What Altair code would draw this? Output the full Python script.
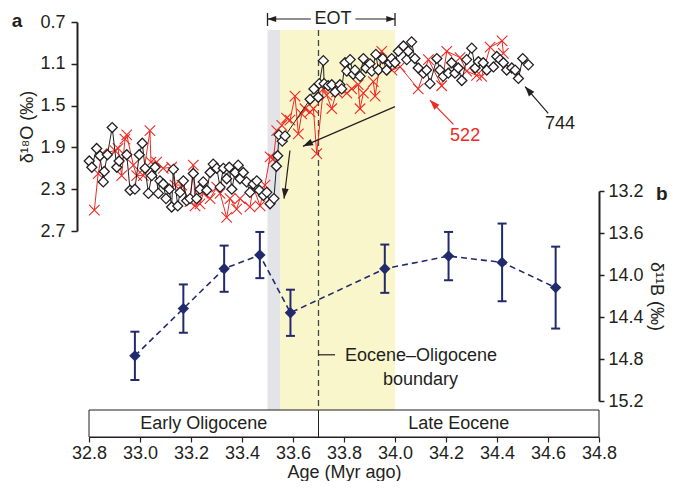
import altair as alt
import pandas as pd

# ---------------- data ----------------
# Site 744 (open black diamonds), age in Myr ago, d18O in permil
site744_age = [32.801, 32.811, 32.830, 32.843, 32.856, 32.860, 32.872, 32.891, 32.909, 32.918,
               32.948, 32.961, 32.980, 32.997, 33.009, 33.020, 33.033, 33.046, 33.059, 33.072,
               33.078, 33.091, 33.102, 33.115, 33.124, 33.131, 33.148, 33.157, 33.170, 33.183,
               33.196, 33.209, 33.222, 33.235, 33.248, 33.262, 33.275, 33.287, 33.301, 33.314,
               33.327, 33.340, 33.350, 33.360, 33.373, 33.385, 33.392, 33.405, 33.418, 33.431,
               33.444, 33.458, 33.468, 33.484, 33.497, 33.510, 33.525, 33.535, 33.540, 33.545,
               33.558, 33.569, 33.667, 33.682, 33.699, 33.703, 33.719, 33.722, 33.738, 33.752,
               33.765, 33.784, 33.791, 33.804, 33.811, 33.824, 33.836, 33.843, 33.863, 33.876,
               33.886, 33.902, 33.909, 33.925, 33.935, 33.952, 33.967, 33.980, 33.987, 34.000,
               34.013, 34.033, 34.046, 34.052, 34.065, 34.078, 34.091, 34.111, 34.124, 34.137,
               34.164, 34.176, 34.189, 34.209, 34.222, 34.235, 34.248, 34.262, 34.281, 34.301,
               34.314, 34.327, 34.346, 34.360, 34.386, 34.399, 34.412, 34.425, 34.438, 34.458,
               34.471, 34.484, 34.501, 34.523]
site744_d18o = [2.03, 2.09, 1.91, 1.98, 2.23, 2.13, 1.97, 1.71, 2.09, 2.03,
                1.97, 2.31, 2.30, 1.97, 1.86, 2.10, 2.34, 2.17, 2.09, 2.34,
                2.22, 2.25, 2.39, 2.30, 2.47, 2.11, 2.46, 2.33, 2.22, 2.41,
                2.39, 2.15, 2.39, 2.30, 2.23, 2.31, 2.14, 2.06, 2.10, 2.28,
                2.10, 2.20, 2.09, 2.30, 2.14, 2.07, 2.20, 2.14, 2.23, 2.33,
                2.25, 2.22, 2.31, 2.36, 2.33, 2.44, 2.39, 2.08, 1.98, 1.78,
                1.84, 1.79, 1.44, 1.34, 1.42, 1.29, 1.07, 1.29, 1.31, 1.30,
                1.37, 1.30, 1.34, 1.09, 1.17, 1.06, 1.20, 1.16, 1.22, 1.05,
                1.14, 1.10, 1.17, 1.01, 1.16, 1.05, 1.16, 1.09, 1.05, 1.09,
                0.98, 0.93, 1.06, 0.98, 0.89, 1.05, 1.14, 1.19, 1.16, 1.29,
                1.05, 1.16, 1.22, 1.19, 1.09, 1.19, 1.14, 1.26, 1.06, 0.95,
                1.14, 1.08, 1.09, 1.16, 1.13, 1.03, 1.06, 1.09, 1.16, 1.14,
                1.16, 1.24, 1.05, 1.11]

# Site 522 (red crosses)
site522_age = [32.821, 32.836, 32.851, 32.902, 32.914, 32.928, 32.941, 32.948, 32.974, 32.987,
               33.013, 33.039, 33.043, 33.065, 33.091, 33.124, 33.137, 33.164, 33.196, 33.209,
               33.216, 33.235, 33.248, 33.275, 33.301, 33.314, 33.340, 33.353, 33.379, 33.392,
               33.431, 33.444, 33.471, 33.490, 33.510, 33.523, 33.536, 33.556, 33.575, 33.588,
               33.608, 33.621, 33.634, 33.647, 33.667, 33.680, 33.693, 33.719, 33.732, 33.752,
               33.771, 33.811, 33.830, 33.856, 33.863, 33.876, 33.915, 33.922, 33.948, 33.988,
               34.020, 34.091, 34.131, 34.183, 34.203, 34.255, 34.281, 34.320, 34.340, 34.373,
               34.420, 34.425]
site522_d18o = [2.50, 2.15, 1.96, 1.93, 1.91, 2.17, 1.82, 1.78, 2.07, 2.17,
                2.17, 1.74, 2.04, 2.04, 2.10, 2.09, 2.26, 2.26, 2.42, 2.07,
                2.46, 2.44, 2.34, 2.39, 2.28, 2.34, 2.57, 2.39, 2.49, 2.39,
                2.47, 2.28, 2.46, 2.26, 1.99, 2.01, 1.74, 1.69, 1.62, 1.64,
                1.41, 1.77, 1.58, 1.53, 1.56, 1.53, 1.96, 1.34, 1.40, 1.53,
                1.37, 1.38, 1.34, 1.30, 1.53, 1.38, 1.27, 1.41, 0.98, 1.16,
                1.13, 1.34, 1.06, 1.31, 0.98, 1.04, 1.17, 1.21, 1.22, 0.94,
                0.88, 1.00]

# Boron isotopes (panel b)
boron_age = [32.98, 33.17, 33.33, 33.47, 33.59, 33.96, 34.21, 34.42, 34.63]
boron_d11b = [14.77, 14.32, 13.94, 13.81, 14.36, 13.94, 13.82, 13.88, 14.12]
boron_err = [0.23, 0.23, 0.22, 0.22, 0.22, 0.23, 0.23, 0.37, 0.39]

# Axis ticks
age_ticks = [32.8, 33.0, 33.2, 33.4, 33.6, 33.8, 34.0, 34.2, 34.4, 34.6, 34.8]
d18o_ticks = [0.7, 1.1, 1.5, 1.9, 2.3, 2.7]
d11b_ticks = [13.2, 13.6, 14.0, 14.4, 14.8, 15.2]

# Shaded intervals and epochs
band_start = [33.50, 33.55]
band_end = [33.55, 34.00]
band_color = ["#e2e4e7", "#faf6cc"]
boundary_age = [33.7]
epoch_names = ["Early Oligocene", "Late Eocene"]
epoch_start = [32.8, 33.7]
epoch_end = [33.7, 34.8]

# Annotation arrows in panel a (age, d18O)
arrow_x0 = [33.588, 34.000, 34.229, 34.601]
arrow_y0 = [1.93, 1.51, 1.68, 1.575]
arrow_x1 = [33.565, 33.639, 34.137, 34.510]
arrow_y1 = [2.39, 1.89, 1.447, 1.318]
arrow_angle = [187, 245, 316, 319]
label_text = ["522", "744"]
label_age = [34.275, 34.647]
label_d18o = [1.787, 1.676]

# ---------------- styling ----------------
FONT = "Liberation Sans"
INK = "#231f20"
RED = "#ee2a24"
NAVY = "#222a6e"
FS = 18
XPATH = "M-1,-1L1,1M-1,1L1,-1"
ARROW = "M0,0L0.35,1L-0.35,1Z"
CAP = "M-1,0L1,0"

arrow_color = [INK, INK, RED, INK]
label_color = [RED, INK]

df744 = pd.DataFrame({"age": site744_age, "d18o": site744_d18o})
df522 = pd.DataFrame({"age": site522_age, "d18o": site522_d18o})
dfb = pd.DataFrame({"age": boron_age, "d11b": boron_d11b, "err": boron_err})
dfb["lo"] = dfb["d11b"] - dfb["err"]
dfb["hi"] = dfb["d11b"] + dfb["err"]
dfband = pd.DataFrame({"start": band_start, "end": band_end, "color": band_color})
dfbound = pd.DataFrame({"age": boundary_age})
dfepoch = pd.DataFrame({"start": epoch_start, "end": epoch_end, "name": epoch_names})
dfepoch["mid"] = (dfepoch["start"] + dfepoch["end"]) / 2
dfarrow = pd.DataFrame({"x0": arrow_x0, "y0": arrow_y0, "x1": arrow_x1, "y1": arrow_y1,
                        "ang": arrow_angle, "color": arrow_color})
dflab = pd.DataFrame({"age": label_age, "d18o": label_d18o, "t": label_text, "color": label_color})

xscale = alt.Scale(domain=[32.8, 34.8], nice=False, zero=False)
xaxis = alt.Axis(values=age_ticks, format=".1f", title="Age (Myr ago)", grid=False,
                 labelFlush=False, labelOverlap=False, tickSize=5, tickWidth=1.2,
                 domainWidth=1.2, labelPadding=2, titleY=40, titleBaseline="alphabetic",
                 titleFontSize=18)
ya_scale = alt.Scale(domain=[0.7, 2.7], range=[14, 223], nice=False, zero=False)
ya_axis = alt.Axis(orient="left", offset=12, values=d18o_ticks, format=".1f",
                   title="δ¹⁸O (‰)", grid=False, labelFlush=False, labelOverlap=False,
                   tickSize=6, tickWidth=1.5, domainWidth=2, labelPadding=6, titlePadding=3)
yb_scale = alt.Scale(domain=[13.2, 15.2], range=[183, 393], nice=False, zero=False)
yb_axis = alt.Axis(orient="right", values=d11b_ticks, format=".1f",
                   title="δ¹¹B (‰)", grid=False, labelFlush=False, labelOverlap=False,
                   tickSize=5, tickWidth=1.5, domainWidth=2, labelPadding=4, titlePadding=3)


def X(field):
    return alt.X(f"{field}:Q", scale=xscale, axis=xaxis)


def YA(field):
    return alt.Y(f"{field}:Q", scale=ya_scale, axis=ya_axis)


def YB(field):
    return alt.Y(f"{field}:Q", scale=yb_scale, axis=yb_axis)


# ---------------- background layers ----------------
bands = alt.Chart(dfband).mark_rect().encode(
    x=X("start"), x2="end", y=alt.value(22), y2=alt.value(402),
    color=alt.Color("color:N", scale=None))
boundary = alt.Chart(dfbound).mark_rule(color="#444444", strokeWidth=1.3, strokeDash=[6, 4]).encode(
    x=X("age"), y=alt.value(22), y2=alt.value(402))
epoch_box = alt.Chart(dfepoch).mark_rect(fill="white", stroke=INK, strokeWidth=1).encode(
    x=X("start"), x2="end", y=alt.value(402), y2=alt.value(429))
epoch_txt = alt.Chart(dfepoch).mark_text(fontSize=FS, color=INK, baseline="middle").encode(
    x=X("mid"), y=alt.value(416), text="name:N")

# EOT bracket
dfeot_line = pd.DataFrame({"a": [33.5, 33.845], "b": [33.67, 34.0]})
dfeot_bar = pd.DataFrame({"a": [band_start[0], band_end[1]], "ang": [270, 90]})
eot_lines = alt.Chart(dfeot_line).mark_rule(color=INK, strokeWidth=1.2).encode(
    x=X("a"), x2="b", y=alt.value(11))
eot_bars = alt.Chart(dfeot_bar).mark_rule(color=INK, strokeWidth=1.3).encode(
    x=X("a"), y=alt.value(5), y2=alt.value(18))
eot_heads = alt.Chart(dfeot_bar).mark_point(shape=ARROW, filled=True, size=300, color=INK, opacity=1).encode(
    x=X("a"), y=alt.value(11), angle=alt.Angle("ang:Q", scale=None))
eot_txt = alt.Chart(pd.DataFrame({"a": [33.757], "t": ["EOT"]})).mark_text(
    fontSize=FS, color=INK, baseline="middle").encode(x=X("a"), y=alt.value(11), text="t:N")

# ---------------- panel a ----------------
red_line = alt.Chart(df522).mark_line(color=RED, strokeWidth=1).encode(x=X("age"), y=YA("d18o"))
red_pts = alt.Chart(df522).mark_point(shape=XPATH, size=110, color=RED, strokeWidth=1.1,
                                      filled=False, opacity=1).encode(x=X("age"), y=YA("d18o"))
blk_line = alt.Chart(df744).mark_line(color=INK, strokeWidth=1).encode(x=X("age"), y=YA("d18o"))
blk_pts = alt.Chart(df744).mark_point(shape="diamond", size=100, filled=True, fill="white",
                                      stroke=INK, strokeWidth=1.3, opacity=1).encode(
    x=X("age"), y=YA("d18o"))
arrows = alt.Chart(dfarrow).mark_rule(strokeWidth=1.2).encode(
    x=X("x0"), x2="x1", y=YA("y0"), y2="y1", color=alt.Color("color:N", scale=None))
heads = alt.Chart(dfarrow).mark_point(shape=ARROW, filled=True, size=400, opacity=1).encode(
    x=X("x1"), y=YA("y1"), angle=alt.Angle("ang:Q", scale=None),
    color=alt.Color("color:N", scale=None))
labels = alt.Chart(dflab).mark_text(fontSize=FS, baseline="middle").encode(
    x=X("age"), y=YA("d18o"), text="t:N", color=alt.Color("color:N", scale=None))

panel_a = alt.layer(red_line, red_pts, blk_line, blk_pts, arrows, heads, labels)

# ---------------- panel b ----------------
b_line = alt.Chart(dfb).mark_line(color=NAVY, strokeWidth=1.6, strokeDash=[6, 4]).encode(
    x=X("age"), y=YB("d11b"))
b_err = alt.Chart(dfb).mark_rule(color=NAVY, strokeWidth=2).encode(x=X("age"), y=YB("lo"), y2="hi")
b_cap_lo = alt.Chart(dfb).mark_point(shape=CAP, size=81, color=NAVY, strokeWidth=2, filled=False,
                                     opacity=1).encode(x=X("age"), y=YB("lo"))
b_cap_hi = alt.Chart(dfb).mark_point(shape=CAP, size=81, color=NAVY, strokeWidth=2, filled=False,
                                     opacity=1).encode(x=X("age"), y=YB("hi"))
b_pts = alt.Chart(dfb).mark_point(shape="diamond", size=130, filled=True, color=NAVY, opacity=1).encode(
    x=X("age"), y=YB("d11b"))
dfbl = pd.DataFrame({"a": [33.7], "b": [33.765], "y": [14.76]})
b_tick = alt.Chart(dfbl).mark_rule(color=INK, strokeWidth=1.2).encode(x=X("a"), x2="b", y=YB("y"))
dfbt = pd.DataFrame({"a": [34.102, 34.100], "y": [14.77, 15.0], "t": ["Eocene–Oligocene", "boundary"]})
b_txt = alt.Chart(dfbt).mark_text(fontSize=FS, color=INK, baseline="middle").encode(
    x=X("a"), y=YB("y"), text="t:N")

panel_b = alt.layer(b_line, b_err, b_cap_lo, b_cap_hi, b_pts, b_tick, b_txt)

# panel letters
letters = alt.Chart(pd.DataFrame({"t": ["a"]})).mark_text(
    fontSize=19, fontWeight="bold", color=INK, baseline="middle").encode(
    x=alt.value(-72), y=alt.value(13), text="t:N")
letter_b = alt.Chart(pd.DataFrame({"t": ["b"]})).mark_text(
    fontSize=19, fontWeight="bold", color=INK, baseline="middle", align="left").encode(
    x=alt.value(567), y=alt.value(186), text="t:N")

chart = alt.layer(
    bands, boundary, epoch_box, epoch_txt, eot_lines, eot_bars, eot_heads, eot_txt,
    panel_a, panel_b, letters, letter_b
).resolve_scale(y="independent").properties(
    width=510, height=429,
    padding={"left": 81, "top": 0, "right": 69, "bottom": 44},
    autosize=alt.AutoSizeParams(type="none"),
).configure_view(stroke=None).configure_axis(
    labelFont=FONT, titleFont=FONT, labelFontSize=FS, titleFontSize=FS,
    labelColor=INK, titleColor=INK, domainColor=INK, tickColor=INK,
    titleFontWeight="normal"
).configure_text(font=FONT)

chart.save("out.html", embed_options={"renderer": "svg", "actions": False})
